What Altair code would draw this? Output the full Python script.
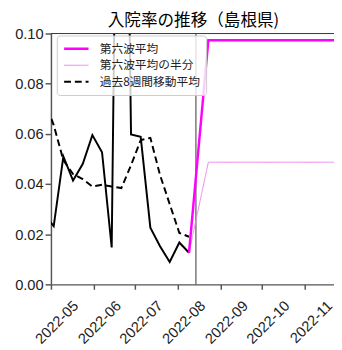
import altair as alt
import pandas as pd

# weekly observations
weeks = ["2022-04-26", "2022-05-03", "2022-05-10", "2022-05-17", "2022-05-24",
         "2022-05-31", "2022-06-07", "2022-06-14", "2022-06-21", "2022-06-28",
         "2022-07-05", "2022-07-12", "2022-07-19", "2022-07-26", "2022-08-02",
         "2022-08-09"]
rate = [0.028, 0.0232, 0.0510, 0.0414, 0.0480, 0.0595, 0.0527, 0.0147, 0.35,
        0.0598, 0.0588, 0.0226, 0.0152, 0.0089, 0.0167, 0.0126]
ma8 = [0.074, 0.0635, 0.0495, 0.0440, 0.0420, 0.0390, 0.0397, 0.0390, 0.0384,
       0.0475, 0.0575, 0.0584, 0.0436, 0.0320, 0.0205, 0.0190]

# sixth-wave projection
wave_dates = ["2022-08-09", "2022-08-23", "2022-12-31"]
wave_avg = [0.0126, 0.0973, 0.0973]
wave_half = [0.0126, 0.0487, 0.0487]

today = ["2022-08-14"]

title_text = "入院率の推移（島根県)"
series_names = ["第六波平均", "第六波平均の半分", "過去8週間移動平均"]
series_colors = ["#ff00ff", "#ee82ee", "#000000"]
series_dash = [[1, 0], [1, 0], [7, 4]]
series_width = [2.5, 1.0, 2.0]

x_ticks = ["2022-05-01", "2022-06-01", "2022-07-01", "2022-08-01",
           "2022-09-01", "2022-10-01", "2022-11-01"]
y_ticks = [0.0, 0.02, 0.04, 0.06, 0.08, 0.10]

W, H = 290, 257


def dt(s):
    y, m, d = [int(v) for v in s.split("-")]
    return alt.DateTime(year=y, month=m, date=d, utc=True)


df_rate = pd.DataFrame({"date": weeks, "value": rate})
df_ma = pd.DataFrame({"date": weeks, "value": ma8, "series": series_names[2]})
df_avg = pd.DataFrame({"date": wave_dates, "value": wave_avg, "series": series_names[0]})
df_half = pd.DataFrame({"date": wave_dates, "value": wave_half, "series": series_names[1]})
df_today = pd.DataFrame({"date": today})
df_title = pd.DataFrame({"t": [title_text]})

xenc = alt.X(
    "date:T",
    scale=alt.Scale(type="utc", nice=False,
                    domain=[dt("2022-05-01"), dt("2022-11-22")]),
    axis=alt.Axis(values=[dt(v) for v in x_ticks], format="%Y-%m", title=None,
                  labelAngle=315, labelAlign="right", labelBaseline="top",
                  labelPadding=9, labelOffset=20, labelOverlap=False,
                  labelBound=False, labelFlush=False,
                  tickSize=5, grid=False),
)
yenc = alt.Y(
    "value:Q",
    scale=alt.Scale(domain=[0, 0.10]),
    axis=alt.Axis(values=y_ticks, format=".2f", title=None, tickSize=6,
                  labelPadding=2, grid=False),
)

legend = alt.Legend(
    title=None, orient="none", legendX=6, legendY=2, symbolType="stroke",
    symbolSize=625, labelFont="Noto Sans CJK JP", labelFontSize=12,
    labelColor="#222222", fillColor="rgba(255,255,255,0.8)", strokeColor="#cccccc",
    padding=6, cornerRadius=3, labelOffset=10, rowPadding=2, clipHeight=15,
)
color_enc = alt.Color("series:N", scale=alt.Scale(domain=series_names, range=series_colors), legend=legend)
dash_enc = alt.StrokeDash("series:N", scale=alt.Scale(domain=series_names, range=series_dash), legend=legend)
width_enc = alt.StrokeWidth("series:N", scale=alt.Scale(type="ordinal", domain=series_names, range=series_width), legend=legend)

today_rule = alt.Chart(df_today).mark_rule(color="#333333", strokeWidth=1).encode(x=xenc)

top_spine = alt.Chart(df_today).mark_rule(color="#333333", strokeWidth=1).encode(
    y=alt.value(0), x=alt.value(0), x2=alt.value(W))

title_mark = alt.Chart(df_title).mark_text(
    font="Noto Sans CJK JP", fontSize=17, color="black", align="center",
    baseline="middle").encode(text="t:N", x=alt.value(W / 2 + 1), y=alt.value(-13))

rate_line = alt.Chart(df_rate).mark_line(color="black", strokeWidth=2, clip=True).encode(x=xenc, y=yenc)


def series_layer(df):
    return alt.Chart(df).mark_line(clip=True).encode(
        x=xenc, y=yenc, color=color_enc, strokeDash=dash_enc, strokeWidth=width_enc)


chart = alt.layer(
    today_rule, rate_line, series_layer(df_ma), series_layer(df_half),
    series_layer(df_avg), top_spine, title_mark,
).properties(
    width=W, height=H,
    autosize=alt.AutoSizeParams(type="none"),
    padding={"left": 44, "top": 22, "right": 0, "bottom": 60},
).configure_view(stroke=None).configure_axis(
    domainColor="#555555", domainWidth=1.5, tickColor="#555555", tickWidth=1.5,
    labelFont="Liberation Sans", labelFontSize=15, labelColor="#222222",
)

chart.save("out.html", embed_options={"renderer": "svg", "actions": False})
